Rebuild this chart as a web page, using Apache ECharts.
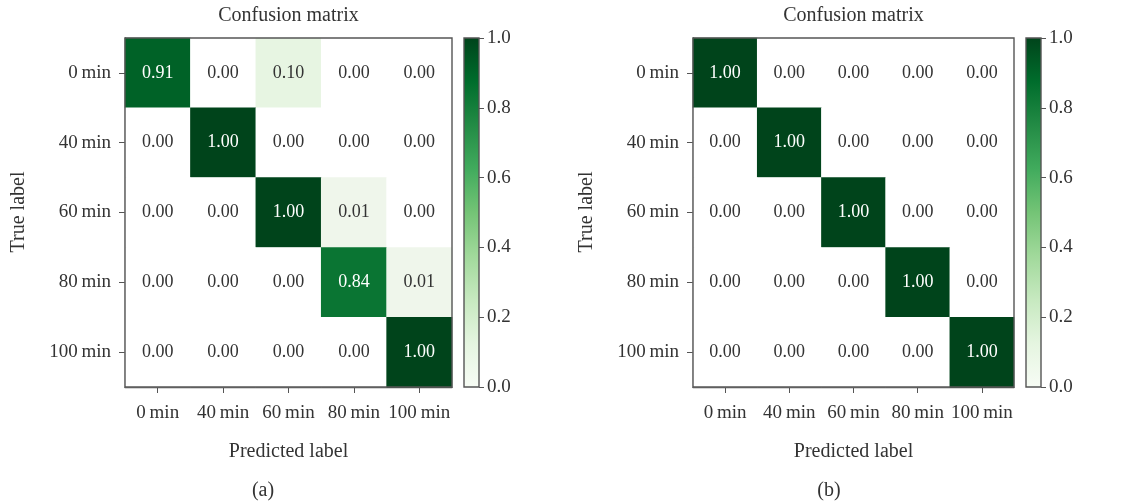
<!DOCTYPE html>
<html>
<head>
<meta charset="utf-8">
<script src="https://cdn.jsdelivr.net/npm/echarts@6/dist/echarts.min.js"></script>
<style>
  html, body { margin: 0; padding: 0; background: #ffffff; }
  #chart { width: 1127px; height: 504px; }
</style>
</head>
<body>
<div id="chart"></div>
<script>
// Class labels (rows = true label, columns = predicted label)
const classLabels = ['0\u2009min', '40\u2009min', '60\u2009min', '80\u2009min', '100\u2009min'];

// Normalised confusion matrix, panel (a)
const matrixA = [
  [0.91, 0.00, 0.10, 0.00, 0.00],
  [0.00, 1.00, 0.00, 0.00, 0.00],
  [0.00, 0.00, 1.00, 0.01, 0.00],
  [0.00, 0.00, 0.00, 0.84, 0.01],
  [0.00, 0.00, 0.00, 0.00, 1.00]
];

// Normalised confusion matrix, panel (b)
const matrixB = [
  [1.00, 0.00, 0.00, 0.00, 0.00],
  [0.00, 1.00, 0.00, 0.00, 0.00],
  [0.00, 0.00, 1.00, 0.00, 0.00],
  [0.00, 0.00, 0.00, 1.00, 0.00],
  [0.00, 0.00, 0.00, 0.00, 1.00]
];

// Colour bar ticks
const colorbarTicks = [0.0, 0.2, 0.4, 0.6, 0.8, 1.0];

// "Greens" sequential colour map, low to high
const greens = ['#f0f6ec', '#e5f5e0', '#c7e9c0', '#a1d99b', '#74c476',
                '#41ab5d', '#238b45', '#006d2c', '#00441b'];
const colorbarGreens = ['#f7fcf5', '#e5f5e0', '#c7e9c0', '#a1d99b', '#74c476',
                        '#41ab5d', '#238b45', '#006d2c', '#00441b'];

const FONT = '"Liberation Serif", "DejaVu Serif", serif';
const TEXT = '#333333';
const FRAME = '#555555';
const FS_CELL = 18;
const FS_TICK = 19;
const FS_TITLE = 20;

function toCells(matrix) {
  const out = [];
  matrix.forEach((row, r) => {
    row.forEach((v, c) => {
      out.push({
        value: [c, r, v],
        label: { color: v > 0.5 ? '#ffffff' : TEXT }
      });
    });
  });
  return out;
}

// panel geometry: heatmap grid and its colour bar
const panels = [
  { grid: { left: 125, top: 38, width: 327, height: 349 }, bar: { left: 464, top: 38, width: 15, height: 349 }, data: matrixA, tag: '(a)', tagX: 263, titleX: 288.5, yNameX: 19 },
  { grid: { left: 693, top: 38, width: 321, height: 349 }, bar: { left: 1026, top: 38, width: 15, height: 349 }, data: matrixB, tag: '(b)', tagX: 829, titleX: 853.5, yNameX: 587 }
];

const grids = [], xAxes = [], yAxes = [], series = [], graphics = [];
const heatmapSeries = [];

panels.forEach((p) => {
  const gi = grids.length;
  grids.push(Object.assign({ show: true, z: 5, borderColor: FRAME, borderWidth: 1.4, backgroundColor: 'transparent' }, p.grid));
  xAxes.push({
    type: 'category', gridIndex: gi, data: classLabels, position: 'bottom',
    axisLine: { show: true, lineStyle: { color: FRAME, width: 1.4 } },
    axisTick: { show: true, alignWithLabel: true, length: 6, lineStyle: { color: FRAME } },
    axisLabel: { interval: 0, color: TEXT, fontFamily: FONT, fontSize: FS_TICK, margin: 17 },
    splitLine: { show: false }, splitArea: { show: false }
  });
  yAxes.push({
    type: 'category', gridIndex: gi, data: classLabels, inverse: true,
    axisLine: { show: true, lineStyle: { color: FRAME, width: 1.4 } },
    axisTick: { show: true, alignWithLabel: true, length: 6, lineStyle: { color: FRAME } },
    axisLabel: { interval: 0, color: TEXT, fontFamily: FONT, fontSize: FS_TICK, margin: 14 },
    splitLine: { show: false }, splitArea: { show: false }
  });
  heatmapSeries.push(series.length);
  series.push({
    type: 'heatmap', xAxisIndex: gi, yAxisIndex: gi, z: 2,
    data: toCells(p.data),
    label: {
      show: true, fontFamily: FONT, fontSize: FS_CELL,
      formatter: (d) => d.value[2].toFixed(2)
    },
    itemStyle: { borderWidth: 0 },
    emphasis: { disabled: true }
  });

  // colour bar drawn as a single full-height bar on a 0–1 value axis
  const bi = grids.length;
  grids.push(Object.assign({ show: true, z: 5, borderColor: FRAME, borderWidth: 1.4, backgroundColor: 'transparent' }, p.bar));
  xAxes.push({ type: 'category', gridIndex: bi, data: [''], show: false });
  yAxes.push({
    type: 'value', gridIndex: bi, position: 'right', min: 0, max: 1, interval: 0.2,
    axisLine: { show: false },
    axisTick: { show: true, length: 5, lineStyle: { color: FRAME } },
    axisLabel: { color: TEXT, fontFamily: FONT, fontSize: FS_TICK, margin: 8, formatter: (v) => v.toFixed(1) },
    splitLine: { show: false }
  });
  series.push({
    type: 'bar', xAxisIndex: bi, yAxisIndex: bi, z: 2,
    data: [colorbarTicks[colorbarTicks.length - 1]],
    barWidth: '100%', silent: true,
    itemStyle: {
      color: new echarts.graphic.LinearGradient(0, 1, 0, 0,
        colorbarGreens.map((c, k) => ({ offset: k / (colorbarGreens.length - 1), color: c })))
    }
  });

  const cx = p.titleX;
  const font = FS_TITLE + 'px ' + FONT;
  graphics.push(
    { type: 'text', x: cx, y: 16, style: { text: 'Confusion matrix', font: font, fill: TEXT, textAlign: 'center', textVerticalAlign: 'middle' } },
    { type: 'text', x: cx, y: 452, style: { text: 'Predicted label', font: font, fill: TEXT, textAlign: 'center', textVerticalAlign: 'middle' } },
    { type: 'text', x: p.tagX, y: 491, style: { text: p.tag, font: font, fill: TEXT, textAlign: 'center', textVerticalAlign: 'middle' } },
    { type: 'text', x: p.yNameX, y: 212, rotation: Math.PI / 2, style: { text: 'True label', font: font, fill: TEXT, textAlign: 'center', textVerticalAlign: 'middle' } }
  );
});

const chart = echarts.init(document.getElementById('chart'), null, { renderer: 'canvas' });
chart.setOption({
  animation: false,
  backgroundColor: '#ffffff',
  grid: grids,
  xAxis: xAxes,
  yAxis: yAxes,
  visualMap: [{
    // exact zeros fall below the selected range and are left white
    type: 'continuous', show: false, min: 0, max: 1, range: [0.005, 1],
    seriesIndex: heatmapSeries, dimension: 2,
    inRange: { color: greens },
    outOfRange: { color: '#ffffff' }
  }],
  series: series,
  graphic: graphics
});
</script>
</body>
</html>
